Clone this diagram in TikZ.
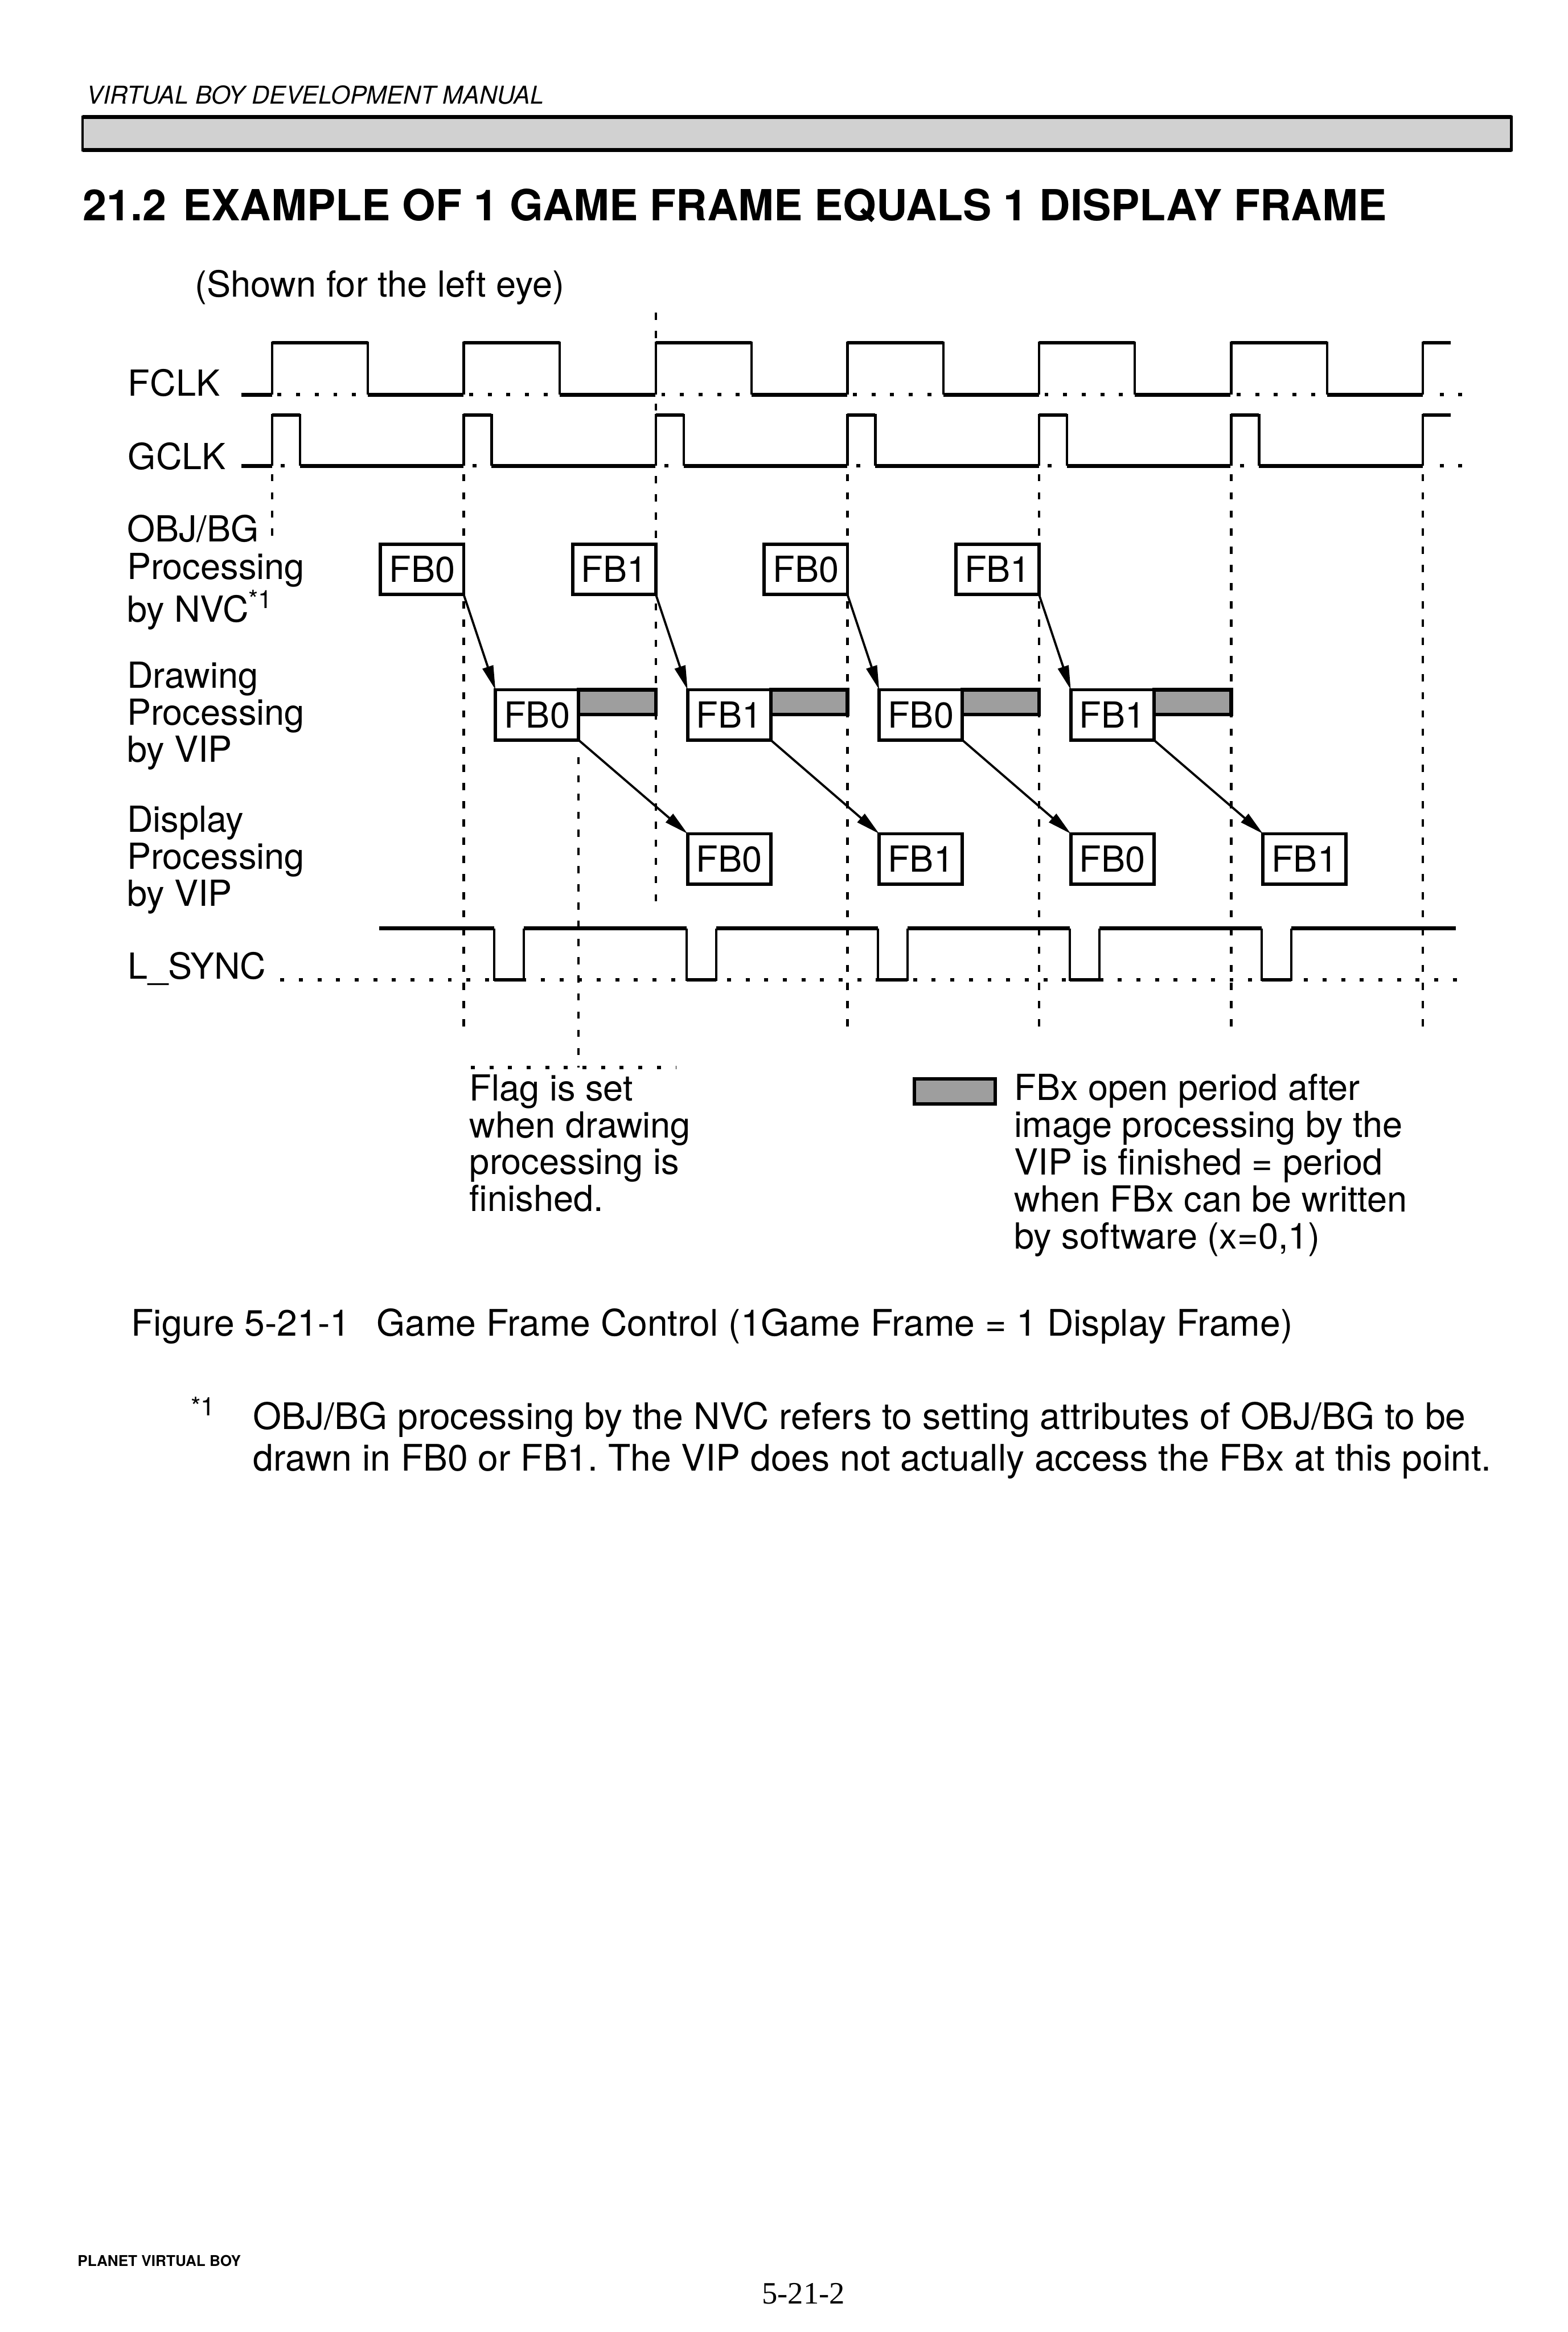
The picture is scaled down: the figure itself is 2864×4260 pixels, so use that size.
\documentclass[tikz,border=0pt]{standalone}
\usepackage{fontspec}
\setmainfont{TeX Gyre Heros}
\newfontfamily\pnfont{Liberation Serif}
\usetikzlibrary{arrows.meta}
\frenchspacing
\newcommand\mlines[1]{\begin{tabular}[t]{@{}l@{}}#1\end{tabular}}
\newcommand\figfont{\fontsize{16.4pt}{16.6pt}\selectfont}
\newcommand\notefont{\fontsize{16.7pt}{19pt}\selectfont}
\begin{document}
\begin{tikzpicture}[x=0.25pt,y=-0.25pt,
  lbl/.style={anchor=base west,inner sep=0pt,outer sep=0pt,font=\figfont},
  fbbox/.style={draw,line width=1.5pt,minimum width=38pt,minimum height=23pt,inner sep=0pt,outer sep=0pt,font=\figfont,fill=white},
  wave/.style={line width=1.1pt},
  hseg/.style={line width=1.7pt},
  dotline/.style={line width=1.6pt,dash pattern=on 1.8pt off 6.7pt},
  vdash/.style={line width=1.1pt,dash pattern=on 3.3pt off 5pt},
  arr/.style={line width=1pt,-{Triangle[length=11pt,width=5pt]}},
  openbar/.style={draw,line width=1.6pt,fill=black!38},
]
\fill[white] (0,0) rectangle (2864,4260);
\useasboundingbox (0,0) rectangle (2864,4260);

% ---------- page header ----------
\node[anchor=base west,inner sep=0pt,font=\fontsize{11.2pt}{12pt}\selectfont\itshape] (hdr) at (158,190) {VIRTUAL BOY DEVELOPMENT MANUAL};
\draw[line width=1.2pt,fill=black!18] (151,214) rectangle (2761,274);
\draw[line width=1.9pt] (151,214) -- (2761,214) (151,274) -- (2761,274);

% ---------- title ----------
\node[anchor=base west,inner sep=0pt,font=\fontsize{19.6pt}{20pt}\selectfont\bfseries] (title) at (151,403) {21.2\hspace{2pt} EXAMPLE OF 1 GAME FRAME EQUALS 1 DISPLAY FRAME};
\node[lbl] (sub) at (356,542) {(Shown for the left eye)};

% ---------- row labels ----------
\node[lbl] (lfclk) at (234,723) {FCLK};
\node[lbl] (lgclk) at (234,858) {GCLK};
\node[lbl] (lnvc) at (232,990) {\mlines{OBJ/BG\\Processing\\by NVC\textsuperscript{*1}}};
\node[lbl] (ldraw) at (232,1257) {\mlines{Drawing\\Processing\\by VIP}};
\node[lbl] (ldisp) at (232,1520) {\mlines{Display\\Processing\\by VIP}};
\node[lbl] (lsync) at (234,1788) {L\_SYNC};

% ---------- vertical dashed guides ----------
\draw[vdash] (497,866) -- (497,995);
\foreach \a in {847,1548,1898,2249,2599} \draw[vdash] (\a,866) -- (\a,1877);
\draw[vdash] (1198,571) -- (1198,1663);
\draw[vdash] (1057,1383) -- (1057,1950);

% ---------- FCLK ----------
\draw[hseg] (441,721) -- (497,721);
\foreach \a in {497,847,1198,1548,1898,2249} {
  \draw[wave] (\a,721) -- (\a,626) -- (\a+175,626) -- (\a+175,721);
  \draw[hseg] (\a,626) -- (\a+175,626);
  \draw[hseg] (\a+175,721) -- (\a+350,721);
  \draw[dotline] (\a+10,721) -- (\a+170,721);
}
\draw[wave] (2599,721) -- (2599,626) -- (2650,626);
\draw[hseg] (2599,626) -- (2650,626);
\draw[dotline] (2630,721) -- (2672,721);

% ---------- GCLK ----------
\draw[hseg] (441,851) -- (497,851);
\foreach \a in {497,847,1198,1548,1898,2249} {
  \draw[wave] (\a,851) -- (\a,758) -- (\a+51,758) -- (\a+51,851);
  \draw[hseg] (\a,758) -- (\a+51,758);
  \draw[hseg] (\a+51,851) -- (\a+350,851);
  \draw[dotline] (\a+16,851) -- (\a+30,851);
}
\draw[wave] (2599,851) -- (2599,758) -- (2650,758);
\draw[hseg] (2599,758) -- (2650,758);
\draw[dotline] (2630,851) -- (2672,851);

% ---------- L_SYNC ----------
\draw[dotline] (512,1790) -- (2672,1790);
\draw[hseg] (693,1696) -- (903,1696);
\foreach \a in {847,1198,1548,1898,2249} {
  \draw[wave] (\a+56,1696) -- (\a+56,1790) -- (\a+110,1790) -- (\a+110,1696);
  \draw[hseg] (\a+56,1790) -- (\a+110,1790);
}
\foreach \a/\b in {957/1254,1308/1604,1658/1954,2008/2305,2359/2659}
  \draw[hseg] (\a,1696) -- (\b,1696);

% ---------- OBJ/BG processing by NVC ----------
\node[fbbox] (n1) at (771,1040) {FB0};
\node[fbbox] (n2) at (1122,1040) {FB1};
\node[fbbox] (n3) at (1472,1040) {FB0};
\node[fbbox] (n4) at (1822,1040) {FB1};

% ---------- drawing processing by VIP ----------
\node[fbbox] (d1) at (981,1306) {FB0};
\node[fbbox] (d2) at (1332,1306) {FB1};
\node[fbbox] (d3) at (1682,1306) {FB0};
\node[fbbox] (d4) at (2032,1306) {FB1};
\draw[openbar] (d1.north east) rectangle (1198,1305);
\draw[openbar] (d2.north east) rectangle (1548,1305);
\draw[openbar] (d3.north east) rectangle (1898,1305);
\draw[openbar] (d4.north east) rectangle (2249,1305);

% ---------- display processing by VIP ----------
\node[fbbox] (p1) at (1332,1569) {FB0};
\node[fbbox] (p2) at (1682,1569) {FB1};
\node[fbbox] (p3) at (2032,1569) {FB0};
\node[fbbox] (p4) at (2383,1569) {FB1};

% ---------- arrows ----------
\draw[arr] (n1.south east) -- (d1.north west);
\draw[arr] (n2.south east) -- (d2.north west);
\draw[arr] (n3.south east) -- (d3.north west);
\draw[arr] (n4.south east) -- (d4.north west);
\draw[arr] (d1.south east) -- (p1.north west);
\draw[arr] (d2.south east) -- (p2.north west);
\draw[arr] (d3.south east) -- (p3.north west);
\draw[arr] (d4.south east) -- (p4.north west);

% ---------- notes under the chart ----------
\draw[dotline] (860,1950) -- (1235,1950);
\node[lbl] (flag) at (858,2011) {\mlines{Flag is set\\when drawing\\processing is\\finished.}};
\draw[openbar] (1670,1971) rectangle (1818,2017);
\node[lbl] (legend) at (1853,2010) {\mlines{FBx open period after\\image processing by the\\VIP is finished = period\\when FBx can be written\\by software (x=0,1)}};

% ---------- caption and footnote ----------
\node[anchor=base west,inner sep=0pt,font=\notefont] (cap) at (239,2440) {Figure 5-21-1\hspace{12pt}Game Frame Control (1Game Frame = 1 Display Frame)};
\node[anchor=base west,inner sep=0pt,font=\notefont] (fnm) at (348,2611) {\textsuperscript{*1}};
\node[anchor=base west,inner sep=0pt,font=\notefont] (fn) at (462,2611) {\mlines{OBJ/BG processing by the NVC refers to setting attributes of OBJ/BG to be\\drawn in FB0 or FB1. The VIP does not actually access the FBx at this point.}};

% ---------- page footer ----------
\node[anchor=base west,inner sep=0pt,font=\fontsize{6.8pt}{7pt}\selectfont\bfseries] (foot) at (141,4140) {PLANET VIRTUAL BOY};
\node[anchor=base west,inner sep=0pt,font=\pnfont\fontsize{14.2pt}{15pt}\selectfont] (pno) at (1391,4208) {5-21-2};
\end{tikzpicture}
\end{document}
